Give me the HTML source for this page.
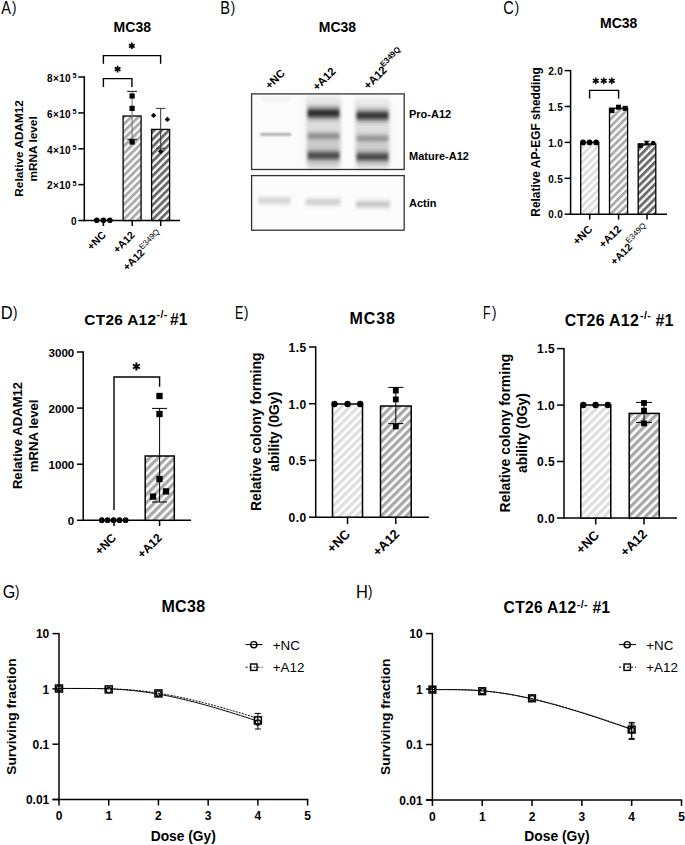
<!DOCTYPE html><html><head><meta charset="utf-8"><style>html,body{margin:0;padding:0;background:#fff;}svg{display:block;}text{font-family:"Liberation Sans",sans-serif;fill:#000;}</style></head><body>
<svg width="685" height="845" viewBox="0 0 685 845">
<defs>
<pattern id="aL" width="5.16" height="5.16" patternUnits="userSpaceOnUse" patternTransform="rotate(45) translate(-1.4,0)"><rect width="5.16" height="5.16" fill="#fff"/><rect width="2.89" height="5.16" fill="#dedede"/></pattern>
<pattern id="aM" width="5.16" height="5.16" patternUnits="userSpaceOnUse" patternTransform="rotate(45) translate(-1.4,0)"><rect width="5.16" height="5.16" fill="#fff"/><rect width="2.89" height="5.16" fill="#ababab"/></pattern>
<pattern id="aD" width="5.16" height="5.16" patternUnits="userSpaceOnUse" patternTransform="rotate(45) translate(-1.4,0)"><rect width="5.16" height="5.16" fill="#fff"/><rect width="2.89" height="5.16" fill="#6b6b6b"/></pattern>
<pattern id="dL" width="5.85" height="5.85" patternUnits="userSpaceOnUse" patternTransform="rotate(45) translate(1.07,0)"><rect width="5.85" height="5.85" fill="#fff"/><rect width="3.28" height="5.85" fill="#dedede"/></pattern>
<pattern id="dM" width="5.85" height="5.85" patternUnits="userSpaceOnUse" patternTransform="rotate(45) translate(1.07,0)"><rect width="5.85" height="5.85" fill="#fff"/><rect width="3.28" height="5.85" fill="#a8a8a8"/></pattern>
<filter id="bl1" x="-30%" y="-100%" width="160%" height="300%"><feGaussianBlur stdDeviation="1.7"/></filter>
<filter id="bl2" x="-30%" y="-100%" width="160%" height="300%"><feGaussianBlur stdDeviation="1.1"/></filter>
<filter id="bl4" x="-30%" y="-100%" width="160%" height="300%"><feGaussianBlur stdDeviation="2.1"/></filter>
<filter id="bl5" x="-30%" y="-150%" width="160%" height="400%"><feGaussianBlur stdDeviation="1.6 2.4"/></filter>
<filter id="bl6" x="-30%" y="-150%" width="160%" height="400%"><feGaussianBlur stdDeviation="1.4 2.7"/></filter>
<filter id="bl7" x="-30%" y="-150%" width="160%" height="400%"><feGaussianBlur stdDeviation="1.4 1.9"/></filter>
<filter id="bl3" x="-30%" y="-30%" width="160%" height="160%"><feGaussianBlur stdDeviation="2.2"/></filter>
</defs>
<rect width="685" height="845" fill="#fff"/>
<text transform="translate(1.17,13.8) scale(0.815,1)" font-size="17.8">A</text>
<text transform="translate(11.92,13.10) scale(0.745,0.92)" font-size="17.8">)</text>
<text transform="translate(220.20,13.8) scale(0.825,1)" font-size="17.8">B</text>
<text transform="translate(230.72,13.10) scale(0.745,0.92)" font-size="17.8">)</text>
<text transform="translate(503.16,13.8) scale(0.82,1)" font-size="17.8">C</text>
<text transform="translate(514.82,13.10) scale(0.745,0.92)" font-size="17.8">)</text>
<text transform="translate(0.64,318.5) scale(0.93,1)" font-size="17.8">D</text>
<text transform="translate(13.02,317.80) scale(0.745,0.92)" font-size="17.8">)</text>
<text transform="translate(235.07,318.5) scale(0.706,1)" font-size="17.8">E</text>
<text transform="translate(243.92,317.80) scale(0.745,0.92)" font-size="17.8">)</text>
<text transform="translate(483.11,318.5) scale(0.68,1)" font-size="17.8">F</text>
<text transform="translate(491.92,317.80) scale(0.745,0.92)" font-size="17.8">)</text>
<text transform="translate(2.69,598) scale(0.905,1)" font-size="17.8">G</text>
<text transform="translate(15.02,597.30) scale(0.745,0.92)" font-size="17.8">)</text>
<text transform="translate(355.95,598) scale(0.926,1)" font-size="17.8">H</text>
<text transform="translate(368.12,597.30) scale(0.745,0.92)" font-size="17.8">)</text>
<line x1="84.30" y1="76.30" x2="84.30" y2="221.25" stroke="#000" stroke-width="1.5" />
<line x1="78.30" y1="77.00" x2="84.30" y2="77.00" stroke="#000" stroke-width="1.5" />
<line x1="78.30" y1="112.90" x2="84.30" y2="112.90" stroke="#000" stroke-width="1.5" />
<line x1="78.30" y1="148.80" x2="84.30" y2="148.80" stroke="#000" stroke-width="1.5" />
<line x1="78.30" y1="184.60" x2="84.30" y2="184.60" stroke="#000" stroke-width="1.5" />
<line x1="78.30" y1="220.50" x2="84.30" y2="220.50" stroke="#000" stroke-width="1.5" />
<line x1="83.55" y1="220.50" x2="180.00" y2="220.50" stroke="#000" stroke-width="1.5" />
<line x1="103.40" y1="220.50" x2="103.40" y2="226.00" stroke="#000" stroke-width="1.5" />
<line x1="132.20" y1="220.50" x2="132.20" y2="226.00" stroke="#000" stroke-width="1.5" />
<line x1="160.70" y1="220.50" x2="160.70" y2="226.00" stroke="#000" stroke-width="1.5" />
<text x="71" y="81.8" font-size="10" font-weight="bold" text-anchor="end" letter-spacing="0.35">8×10</text>
<text x="72.4" y="77.9" font-size="7.2" font-weight="bold">5</text>
<text x="71" y="117.7" font-size="10" font-weight="bold" text-anchor="end" letter-spacing="0.35">6×10</text>
<text x="72.4" y="113.80000000000001" font-size="7.2" font-weight="bold">5</text>
<text x="71" y="153.60000000000002" font-size="10" font-weight="bold" text-anchor="end" letter-spacing="0.35">4×10</text>
<text x="72.4" y="149.70000000000002" font-size="7.2" font-weight="bold">5</text>
<text x="71" y="189.4" font-size="10" font-weight="bold" text-anchor="end" letter-spacing="0.35">2×10</text>
<text x="72.4" y="185.5" font-size="7.2" font-weight="bold">5</text>
<text x="76.5" y="224.6" font-size="10" font-weight="bold" text-anchor="end" >0</text>
<text x="132.3" y="32" font-size="14" font-weight="bold" text-anchor="middle" >MC38</text>
<text transform="translate(22.8,148.4) rotate(-90)" font-size="11.8" font-weight="bold" text-anchor="middle">Relative ADAM12</text>
<text transform="translate(37.1,148.9) rotate(-90)" font-size="11.8" font-weight="bold" text-anchor="middle">mRNA level</text>
<rect x="123.1" y="116" width="18.00" height="104.50" fill="url(#aM)" stroke="#000" stroke-width="1.3"/>
<rect x="151.6" y="129.4" width="18.00" height="91.10" fill="url(#aD)" stroke="#000" stroke-width="1.3"/>
<line x1="132.10" y1="91.40" x2="132.10" y2="139.30" stroke="#7a7a7a" stroke-width="1.1" />
<line x1="127.20" y1="91.40" x2="137.00" y2="91.40" stroke="#222" stroke-width="1.1" />
<line x1="127.20" y1="139.30" x2="137.00" y2="139.30" stroke="#222" stroke-width="1.1" />
<line x1="160.70" y1="108.40" x2="160.70" y2="148.20" stroke="#333" stroke-width="1" />
<line x1="155.95" y1="108.40" x2="165.45" y2="108.40" stroke="#333" stroke-width="1" />
<line x1="155.95" y1="148.20" x2="165.45" y2="148.20" stroke="#333" stroke-width="1" />
<circle cx="96.8" cy="220.3" r="2.8" fill="#000" stroke="#000" stroke-width="0"/>
<circle cx="103.4" cy="220.3" r="2.8" fill="#000" stroke="#000" stroke-width="0"/>
<circle cx="109.9" cy="220.3" r="2.8" fill="#000" stroke="#000" stroke-width="0"/>
<rect x="129.50" y="93.40" width="5.2" height="5.2" fill="#000"/>
<rect x="129.50" y="105.80" width="5.2" height="5.2" fill="#000"/>
<rect x="129.50" y="139.40" width="5.2" height="5.2" fill="#000"/>
<path d="M153.6,112.7 L156.29999999999998,115.4 L153.6,118.10000000000001 L150.9,115.4 Z" fill="#000"/>
<path d="M167.4,116.7 L170.1,119.4 L167.4,122.10000000000001 L164.70000000000002,119.4 Z" fill="#000"/>
<path d="M160.7,148.70000000000002 L163.39999999999998,151.4 L160.7,154.1 L158.0,151.4 Z" fill="#000"/>
<path d="M103.4,87 V78.6 H131.9 V87" fill="none" stroke="#000" stroke-width="1.4"/>
<path d="M103.4,63.7 V55.6 H160.6 V63.7" fill="none" stroke="#000" stroke-width="1.4"/>
<path d="M117.60,65.80 L117.60,72.40 M114.74,67.45 L120.46,70.75 M114.74,70.75 L120.46,67.45 " stroke="#000" stroke-width="1.7" fill="none"/>
<path d="M131.80,42.50 L131.80,49.10 M128.94,44.15 L134.66,47.45 M128.94,47.45 L134.66,44.15 " stroke="#000" stroke-width="1.7" fill="none"/>
<text transform="translate(106.5,235.6) rotate(-45)" font-size="10.5" font-weight="bold" text-anchor="end" >+NC</text>
<text transform="translate(135.4,235.7) rotate(-45)" font-size="10.5" font-weight="bold" text-anchor="end" >+A12</text>
<text transform="translate(163,235.5) rotate(-45)" font-size="10.5" font-weight="bold" text-anchor="end">+A12<tspan font-size="8" font-weight="normal" dx="0.3" dy="-4.5">E349Q</tspan></text>
<text x="337.5" y="32" font-size="14" font-weight="bold" text-anchor="middle" >MC38</text>
<text transform="translate(285.5,74) rotate(-45)" font-size="11" font-weight="bold" text-anchor="end" >+NC</text>
<text transform="translate(336.5,72) rotate(-45)" font-size="11.3" font-weight="bold" text-anchor="end" >+A12</text>
<text transform="translate(404.6,53.65) rotate(-45)" font-size="11.3" font-weight="bold" text-anchor="end">+A12<tspan font-size="8" dx="-0.8" dy="-5.3">E349Q</tspan></text>
<rect x="252" y="94.5" width="152" height="74.5" fill="#fbfbfb"/>
<rect x="252" y="176" width="152" height="54" fill="#fcfcfc"/>
<rect x="307" y="100" width="33" height="68" fill="#cfcfcf" filter="url(#bl3)"/>
<rect x="307" y="96" width="33" height="8" fill="#e8e8e8" filter="url(#bl3)"/>
<rect x="356" y="102" width="33" height="66" fill="#d1d1d1" filter="url(#bl3)"/>
<rect x="356" y="98" width="33" height="8" fill="#eaeaea" filter="url(#bl3)"/>
<rect x="308" y="142" width="31" height="9" fill="#cacaca" filter="url(#bl3)"/>
<rect x="357" y="144" width="31" height="9" fill="#cccccc" filter="url(#bl3)"/>
<rect x="308" y="122" width="31" height="8" fill="#dedede" filter="url(#bl3)"/>
<rect x="357" y="124" width="31" height="8" fill="#e0e0e0" filter="url(#bl3)"/>
<rect x="261" y="98.3" width="30" height="2" fill="#ebebeb" filter="url(#bl1)"/>
<rect x="260.5" y="133.20000000000002" width="30.5" height="2.4" fill="#a0a0a0" filter="url(#bl2)"/>
<rect x="307.5" y="109.2" width="32" height="8" fill="#1e1e1e" filter="url(#bl6)"/>
<rect x="307.5" y="133.89999999999998" width="32" height="4.6" fill="#7c7c7c" filter="url(#bl7)"/>
<rect x="307.5" y="152.1" width="32" height="7" fill="#363636" filter="url(#bl6)"/>
<rect x="356.5" y="111.8" width="32" height="7.6" fill="#222222" filter="url(#bl6)"/>
<rect x="356.5" y="136.20000000000002" width="32" height="4.4" fill="#808080" filter="url(#bl7)"/>
<rect x="356.5" y="153.3" width="32" height="7" fill="#303030" filter="url(#bl6)"/>
<rect x="258.5" y="198.5" width="32" height="4.2" fill="#bcbcbc" filter="url(#bl5)"/>
<rect x="305.5" y="199.9" width="35" height="4.2" fill="#b6b6b6" filter="url(#bl5)"/>
<rect x="356" y="202.0" width="34" height="4.4" fill="#acacac" filter="url(#bl5)"/>
<rect x="251.6" y="93.9" width="152.6" height="75.6" fill="none" stroke="#333" stroke-width="1.3"/>
<rect x="251.6" y="175.6" width="152.6" height="54.6" fill="none" stroke="#333" stroke-width="1.3"/>
<text x="409" y="118.4" font-size="11" font-weight="bold" text-anchor="start" >Pro-A12</text>
<text x="409" y="159.6" font-size="11" font-weight="bold" text-anchor="start" >Mature-A12</text>
<text x="409" y="207.4" font-size="11" font-weight="bold" text-anchor="start" >Actin</text>
<text x="618.7" y="28" font-size="14" font-weight="bold" text-anchor="middle" >MC38</text>
<line x1="570.60" y1="70.00" x2="570.60" y2="214.95" stroke="#000" stroke-width="1.5" />
<line x1="564.60" y1="70.60" x2="570.60" y2="70.60" stroke="#000" stroke-width="1.5" />
<line x1="564.60" y1="106.50" x2="570.60" y2="106.50" stroke="#000" stroke-width="1.5" />
<line x1="564.60" y1="142.40" x2="570.60" y2="142.40" stroke="#000" stroke-width="1.5" />
<line x1="564.60" y1="178.30" x2="570.60" y2="178.30" stroke="#000" stroke-width="1.5" />
<line x1="564.60" y1="214.20" x2="570.60" y2="214.20" stroke="#000" stroke-width="1.5" />
<line x1="569.85" y1="214.20" x2="667.00" y2="214.20" stroke="#000" stroke-width="1.5" />
<line x1="589.70" y1="214.20" x2="589.70" y2="219.60" stroke="#000" stroke-width="1.5" />
<line x1="618.60" y1="214.20" x2="618.60" y2="219.60" stroke="#000" stroke-width="1.5" />
<line x1="647.00" y1="214.20" x2="647.00" y2="219.60" stroke="#000" stroke-width="1.5" />
<text x="563" y="74.8" font-size="10" font-weight="bold" text-anchor="end" letter-spacing="0.3">2.0</text>
<text x="563" y="110.7" font-size="10" font-weight="bold" text-anchor="end" letter-spacing="0.3">1.5</text>
<text x="563" y="146.6" font-size="10" font-weight="bold" text-anchor="end" letter-spacing="0.3">1.0</text>
<text x="563" y="182.5" font-size="10" font-weight="bold" text-anchor="end" letter-spacing="0.3">0.5</text>
<text x="563" y="218.39999999999998" font-size="10" font-weight="bold" text-anchor="end" letter-spacing="0.3">0.0</text>
<text transform="translate(539.6,141.9) rotate(-90)" font-size="11.9" font-weight="bold" text-anchor="middle">Relative AP-EGF shedding</text>
<rect x="580.7" y="142.4" width="18.10" height="71.80" fill="url(#aL)" stroke="#000" stroke-width="1.3"/>
<rect x="609.5" y="108.2" width="18.10" height="106.00" fill="url(#aM)" stroke="#000" stroke-width="1.3"/>
<rect x="638.2" y="144" width="17.60" height="70.20" fill="url(#aD)" stroke="#000" stroke-width="1.3"/>
<circle cx="583" cy="142.4" r="2.9" fill="#000" stroke="#000" stroke-width="0"/>
<circle cx="589.6" cy="142.4" r="2.9" fill="#000" stroke="#000" stroke-width="0"/>
<circle cx="596.2" cy="142.4" r="2.9" fill="#000" stroke="#000" stroke-width="0"/>
<rect x="609.50" y="108.00" width="5" height="5" fill="#000"/>
<rect x="616.00" y="104.70" width="5" height="5" fill="#000"/>
<rect x="622.70" y="105.80" width="5" height="5" fill="#000"/>
<rect x="638.30" y="143.40" width="4.4" height="4.4" fill="#000"/>
<line x1="646.70" y1="141.20" x2="646.70" y2="145.00" stroke="#000" stroke-width="0.9" />
<line x1="643.70" y1="141.20" x2="649.70" y2="141.20" stroke="#000" stroke-width="0.9" />
<line x1="643.70" y1="145.00" x2="649.70" y2="145.00" stroke="#000" stroke-width="0.9" />
<rect x="644.90" y="141.20" width="3.6" height="3.6" fill="#000"/>
<circle cx="653.2" cy="143.2" r="2.4" fill="#000" stroke="#000" stroke-width="0"/>
<path d="M589.6,98.4 V90.4 H618.6 V98.4" fill="none" stroke="#000" stroke-width="1.4"/>
<path d="M595.80,77.40 L595.80,84.20 M592.86,79.10 L598.74,82.50 M592.86,82.50 L598.74,79.10 " stroke="#000" stroke-width="1.45" fill="none"/>
<path d="M603.80,77.40 L603.80,84.20 M600.86,79.10 L606.74,82.50 M600.86,82.50 L606.74,79.10 " stroke="#000" stroke-width="1.45" fill="none"/>
<path d="M611.80,77.40 L611.80,84.20 M608.86,79.10 L614.74,82.50 M608.86,82.50 L614.74,79.10 " stroke="#000" stroke-width="1.45" fill="none"/>
<text transform="translate(593,230) rotate(-45)" font-size="11" font-weight="bold" text-anchor="end" >+NC</text>
<text transform="translate(622,230) rotate(-45)" font-size="11" font-weight="bold" text-anchor="end" >+A12</text>
<text transform="translate(650.4,230.1) rotate(-45)" font-size="10.5" font-weight="bold" text-anchor="end">+A12<tspan font-size="8" font-weight="normal" dx="0" dy="-5.7">E349Q</tspan></text>
<text x="84.3" y="324.7" font-size="15.4" font-weight="bold" letter-spacing="0.3">CT26 A12</text>
<text x="156.4" y="317.8" font-size="10.5" font-weight="bold" letter-spacing="0.5">-/-</text>
<text x="170.0" y="324.7" font-size="15.6" font-weight="bold">#1</text>
<line x1="83.20" y1="351.30" x2="83.20" y2="521.05" stroke="#000" stroke-width="1.5" />
<line x1="77.00" y1="352.00" x2="83.20" y2="352.00" stroke="#000" stroke-width="1.5" />
<line x1="77.00" y1="408.10" x2="83.20" y2="408.10" stroke="#000" stroke-width="1.5" />
<line x1="77.00" y1="464.20" x2="83.20" y2="464.20" stroke="#000" stroke-width="1.5" />
<line x1="77.00" y1="520.30" x2="83.20" y2="520.30" stroke="#000" stroke-width="1.5" />
<line x1="82.45" y1="520.30" x2="191.00" y2="520.30" stroke="#000" stroke-width="1.5" />
<line x1="114.00" y1="520.30" x2="114.00" y2="526.00" stroke="#000" stroke-width="1.5" />
<line x1="159.60" y1="520.30" x2="159.60" y2="526.00" stroke="#000" stroke-width="1.5" />
<text x="74.3" y="356.5" font-size="11.6" font-weight="bold" text-anchor="end" >3000</text>
<text x="74.3" y="412.6" font-size="11.6" font-weight="bold" text-anchor="end" >2000</text>
<text x="74.3" y="468.7" font-size="11.6" font-weight="bold" text-anchor="end" >1000</text>
<text x="74.3" y="524.8" font-size="11.6" font-weight="bold" text-anchor="end" >0</text>
<text transform="translate(22.0,435.5) rotate(-90)" font-size="13.1" font-weight="bold" text-anchor="middle">Relative ADAM12</text>
<text transform="translate(38.1,435.9) rotate(-90)" font-size="13.2" font-weight="bold" text-anchor="middle">mRNA level</text>
<rect x="145.2" y="456" width="29.10" height="64.30" fill="url(#dM)" stroke="#000" stroke-width="1.5"/>
<line x1="159.60" y1="408.40" x2="159.60" y2="502.00" stroke="#000" stroke-width="1" />
<line x1="152.10" y1="408.40" x2="167.10" y2="408.40" stroke="#000" stroke-width="1" />
<line x1="152.10" y1="502.00" x2="167.10" y2="502.00" stroke="#000" stroke-width="1" />
<circle cx="101.8" cy="520.2" r="2.9" fill="#000" stroke="#000" stroke-width="0"/>
<circle cx="107.7" cy="520.2" r="2.9" fill="#000" stroke="#000" stroke-width="0"/>
<circle cx="113.6" cy="520.2" r="2.9" fill="#000" stroke="#000" stroke-width="0"/>
<circle cx="119.5" cy="520.2" r="2.9" fill="#000" stroke="#000" stroke-width="0"/>
<circle cx="125.6" cy="520.2" r="2.9" fill="#000" stroke="#000" stroke-width="0"/>
<rect x="156.35" y="392.85" width="6.3" height="6.3" fill="#000"/>
<rect x="156.35" y="410.85" width="6.3" height="6.3" fill="#000"/>
<rect x="156.35" y="475.85" width="6.3" height="6.3" fill="#000"/>
<rect x="149.85" y="493.45" width="6.3" height="6.3" fill="#000"/>
<rect x="162.85" y="488.25" width="6.3" height="6.3" fill="#000"/>
<path d="M114,510 V377 H159.6 V386.8" fill="none" stroke="#000" stroke-width="1.4"/>
<path d="M136.40,362.50 L136.40,370.50 M132.94,364.50 L139.86,368.50 M132.94,368.50 L139.86,364.50 " stroke="#000" stroke-width="2" fill="none"/>
<text transform="translate(117,538.5) rotate(-45)" font-size="12" font-weight="bold" text-anchor="end" >+NC</text>
<text transform="translate(162.8,538.5) rotate(-45)" font-size="12" font-weight="bold" text-anchor="end" >+A12</text>
<text x="372.6" y="324.3" font-size="16" font-weight="bold" text-anchor="middle" letter-spacing="0.9">MC38</text>
<line x1="315.70" y1="346.30" x2="315.70" y2="517.95" stroke="#000" stroke-width="1.5" />
<line x1="309.00" y1="347.00" x2="315.70" y2="347.00" stroke="#000" stroke-width="1.5" />
<line x1="309.00" y1="403.70" x2="315.70" y2="403.70" stroke="#000" stroke-width="1.5" />
<line x1="309.00" y1="460.40" x2="315.70" y2="460.40" stroke="#000" stroke-width="1.5" />
<line x1="309.00" y1="517.20" x2="315.70" y2="517.20" stroke="#000" stroke-width="1.5" />
<line x1="314.95" y1="517.20" x2="429.00" y2="517.20" stroke="#000" stroke-width="1.5" />
<line x1="347.50" y1="517.20" x2="347.50" y2="524.00" stroke="#000" stroke-width="1.5" />
<line x1="395.80" y1="517.20" x2="395.80" y2="524.00" stroke="#000" stroke-width="1.5" />
<text x="306.5" y="351.8" font-size="12" font-weight="bold" text-anchor="end" letter-spacing="0.4">1.5</text>
<text x="306.5" y="408.5" font-size="12" font-weight="bold" text-anchor="end" letter-spacing="0.4">1.0</text>
<text x="306.5" y="465.2" font-size="12" font-weight="bold" text-anchor="end" letter-spacing="0.4">0.5</text>
<text x="306.5" y="522.0" font-size="12" font-weight="bold" text-anchor="end" letter-spacing="0.4">0.0</text>
<text transform="translate(261.2,431.75) rotate(-90)" font-size="14.0" font-weight="bold" text-anchor="middle">Relative colony forming</text>
<text transform="translate(278.5,431.75) rotate(-90)" font-size="14.0" font-weight="bold" text-anchor="middle">ability (0Gy)</text>
<rect x="332.5" y="404" width="30.00" height="113.20" fill="url(#dL)" stroke="#000" stroke-width="1.5"/>
<rect x="380.5" y="406" width="30.70" height="111.20" fill="url(#dM)" stroke="#000" stroke-width="1.5"/>
<line x1="395.80" y1="387.40" x2="395.80" y2="423.60" stroke="#000" stroke-width="1" />
<line x1="388.30" y1="387.40" x2="403.30" y2="387.40" stroke="#000" stroke-width="1" />
<line x1="388.30" y1="423.60" x2="403.30" y2="423.60" stroke="#000" stroke-width="1" />
<circle cx="334.5" cy="404" r="3.2" fill="#000" stroke="#000" stroke-width="0"/>
<circle cx="347.6" cy="404" r="3.2" fill="#000" stroke="#000" stroke-width="0"/>
<circle cx="360.2" cy="404" r="3.2" fill="#000" stroke="#000" stroke-width="0"/>
<rect x="392.90" y="387.70" width="5.8" height="5.8" fill="#000"/>
<rect x="392.90" y="396.50" width="5.8" height="5.8" fill="#000"/>
<rect x="392.90" y="423.50" width="5.8" height="5.8" fill="#000"/>
<text transform="translate(351,535) rotate(-45)" font-size="13" font-weight="bold" text-anchor="end" >+NC</text>
<text transform="translate(400.2,534.8) rotate(-45)" font-size="13" font-weight="bold" text-anchor="end" >+A12</text>
<text x="564.8" y="325.5" font-size="15.9" font-weight="bold" letter-spacing="0.3">CT26 A12</text>
<text x="639.9" y="318.6" font-size="10.5" font-weight="bold" letter-spacing="0.5">-/-</text>
<text x="655.6" y="325.5" font-size="16.1" font-weight="bold">#1</text>
<line x1="564.00" y1="347.90" x2="564.00" y2="518.75" stroke="#000" stroke-width="1.5" />
<line x1="557.00" y1="348.60" x2="564.00" y2="348.60" stroke="#000" stroke-width="1.5" />
<line x1="557.00" y1="405.10" x2="564.00" y2="405.10" stroke="#000" stroke-width="1.5" />
<line x1="557.00" y1="461.50" x2="564.00" y2="461.50" stroke="#000" stroke-width="1.5" />
<line x1="557.00" y1="518.00" x2="564.00" y2="518.00" stroke="#000" stroke-width="1.5" />
<line x1="563.25" y1="518.00" x2="677.00" y2="518.00" stroke="#000" stroke-width="1.5" />
<line x1="595.70" y1="518.00" x2="595.70" y2="524.50" stroke="#000" stroke-width="1.5" />
<line x1="644.00" y1="518.00" x2="644.00" y2="524.50" stroke="#000" stroke-width="1.5" />
<text x="555" y="353.40000000000003" font-size="12" font-weight="bold" text-anchor="end" letter-spacing="0.4">1.5</text>
<text x="555" y="409.90000000000003" font-size="12" font-weight="bold" text-anchor="end" letter-spacing="0.4">1.0</text>
<text x="555" y="466.3" font-size="12" font-weight="bold" text-anchor="end" letter-spacing="0.4">0.5</text>
<text x="555" y="522.8" font-size="12" font-weight="bold" text-anchor="end" letter-spacing="0.4">0.0</text>
<text transform="translate(509.7,433.05) rotate(-90)" font-size="14.0" font-weight="bold" text-anchor="middle">Relative colony forming</text>
<text transform="translate(526.7,433.05) rotate(-90)" font-size="14.0" font-weight="bold" text-anchor="middle">ability (0Gy)</text>
<rect x="580.8" y="405" width="30.00" height="113.00" fill="url(#dL)" stroke="#000" stroke-width="1.5"/>
<rect x="629.2" y="413.4" width="30.00" height="104.60" fill="url(#dM)" stroke="#000" stroke-width="1.5"/>
<line x1="644.00" y1="402.40" x2="644.00" y2="422.40" stroke="#000" stroke-width="1" />
<line x1="636.00" y1="402.40" x2="652.00" y2="402.40" stroke="#000" stroke-width="1" />
<line x1="636.00" y1="422.40" x2="652.00" y2="422.40" stroke="#000" stroke-width="1" />
<circle cx="583.3" cy="405" r="3.2" fill="#000" stroke="#000" stroke-width="0"/>
<circle cx="595.6" cy="405" r="3.2" fill="#000" stroke="#000" stroke-width="0"/>
<circle cx="607.8" cy="405" r="3.2" fill="#000" stroke="#000" stroke-width="0"/>
<rect x="641.10" y="400.10" width="5.8" height="5.8" fill="#000"/>
<rect x="641.10" y="407.70" width="5.8" height="5.8" fill="#000"/>
<rect x="641.10" y="420.50" width="5.8" height="5.8" fill="#000"/>
<text transform="translate(600,536) rotate(-45)" font-size="13" font-weight="bold" text-anchor="end" >+NC</text>
<text transform="translate(647.8,535) rotate(-45)" font-size="13" font-weight="bold" text-anchor="end" >+A12</text>
<line x1="59.00" y1="632.90" x2="59.00" y2="800.25" stroke="#000" stroke-width="1.5" />
<line x1="52.50" y1="633.60" x2="59.00" y2="633.60" stroke="#000" stroke-width="1.5" />
<line x1="52.50" y1="688.90" x2="59.00" y2="688.90" stroke="#000" stroke-width="1.5" />
<line x1="52.50" y1="744.20" x2="59.00" y2="744.20" stroke="#000" stroke-width="1.5" />
<line x1="52.50" y1="799.50" x2="59.00" y2="799.50" stroke="#000" stroke-width="1.5" />
<line x1="52.50" y1="799.50" x2="308.30" y2="799.50" stroke="#000" stroke-width="1.5" />
<line x1="59.00" y1="799.50" x2="59.00" y2="805.50" stroke="#000" stroke-width="1.5" />
<text x="59.0" y="820.1" font-size="12" font-weight="bold" text-anchor="middle" >0</text>
<line x1="108.72" y1="799.50" x2="108.72" y2="805.50" stroke="#000" stroke-width="1.5" />
<text x="108.72" y="820.1" font-size="12" font-weight="bold" text-anchor="middle" >1</text>
<line x1="158.44" y1="799.50" x2="158.44" y2="805.50" stroke="#000" stroke-width="1.5" />
<text x="158.44" y="820.1" font-size="12" font-weight="bold" text-anchor="middle" >2</text>
<line x1="208.16" y1="799.50" x2="208.16" y2="805.50" stroke="#000" stroke-width="1.5" />
<text x="208.16" y="820.1" font-size="12" font-weight="bold" text-anchor="middle" >3</text>
<line x1="257.88" y1="799.50" x2="257.88" y2="805.50" stroke="#000" stroke-width="1.5" />
<text x="257.88" y="820.1" font-size="12" font-weight="bold" text-anchor="middle" >4</text>
<line x1="307.60" y1="799.50" x2="307.60" y2="805.50" stroke="#000" stroke-width="1.5" />
<text x="307.6" y="820.1" font-size="12" font-weight="bold" text-anchor="middle" >5</text>
<text x="49.3" y="638.3" font-size="12" font-weight="bold" text-anchor="end" >10</text>
<text x="49.3" y="693.6" font-size="12" font-weight="bold" text-anchor="end" >1</text>
<text x="49.3" y="748.9" font-size="12" font-weight="bold" text-anchor="end" >0.1</text>
<text x="49.3" y="804.2" font-size="12" font-weight="bold" text-anchor="end" >0.01</text>
<text transform="translate(16.0,716.55) rotate(-90)" font-size="13.7" font-weight="bold" text-anchor="middle">Surviving fraction</text>
<text x="183.3" y="840.5" font-size="13.8" font-weight="bold" text-anchor="middle" >Dose (Gy)</text>
<path d="M59.00,688.46 L61.49,688.46 L63.97,688.46 L66.46,688.46 L68.94,688.46 L71.43,688.46 L73.92,688.46 L76.40,688.46 L78.89,688.46 L81.37,688.47 L83.86,688.47 L86.35,688.48 L88.83,688.49 L91.32,688.51 L93.80,688.54 L96.29,688.57 L98.78,688.61 L101.26,688.66 L103.75,688.72 L106.23,688.79 L108.72,688.87 L111.21,688.97 L113.69,689.09 L116.18,689.22 L118.66,689.36 L121.15,689.52 L123.64,689.70 L126.12,689.90 L128.61,690.12 L131.09,690.35 L133.58,690.61 L136.07,690.88 L138.55,691.17 L141.04,691.48 L143.52,691.80 L146.01,692.15 L148.50,692.51 L150.98,692.89 L153.47,693.29 L155.95,693.71 L158.44,694.14 L160.93,694.59 L163.41,695.06 L165.90,695.54 L168.38,696.04 L170.87,696.55 L173.36,697.08 L175.84,697.62 L178.33,698.17 L180.81,698.74 L183.30,699.33 L185.79,699.92 L188.27,700.53 L190.76,701.15 L193.24,701.78 L195.73,702.42 L198.22,703.08 L200.70,703.74 L203.19,704.41 L205.67,705.10 L208.16,705.79 L210.65,706.49 L213.13,707.20 L215.62,707.93 L218.10,708.65 L220.59,709.39 L223.08,710.13 L225.56,710.89 L228.05,711.64 L230.53,712.41 L233.02,713.18 L235.51,713.96 L237.99,714.75 L240.48,715.54 L242.96,716.33 L245.45,717.14 L247.94,717.94 L250.42,718.76 L252.91,719.57 L255.39,720.39 L257.88,721.22" fill="none" stroke="#000" stroke-width="1"/>
<path d="M59.00,688.46 L61.49,688.46 L63.97,688.46 L66.46,688.46 L68.94,688.46 L71.43,688.46 L73.92,688.46 L76.40,688.46 L78.89,688.46 L81.37,688.46 L83.86,688.47 L86.35,688.47 L88.83,688.48 L91.32,688.49 L93.80,688.51 L96.29,688.53 L98.78,688.56 L101.26,688.60 L103.75,688.64 L106.23,688.69 L108.72,688.76 L111.21,688.83 L113.69,688.92 L116.18,689.03 L118.66,689.14 L121.15,689.27 L123.64,689.42 L126.12,689.58 L128.61,689.76 L131.09,689.95 L133.58,690.16 L136.07,690.39 L138.55,690.64 L141.04,690.90 L143.52,691.18 L146.01,691.48 L148.50,691.80 L150.98,692.13 L153.47,692.48 L155.95,692.84 L158.44,693.23 L160.93,693.63 L163.41,694.04 L165.90,694.47 L168.38,694.92 L170.87,695.38 L173.36,695.86 L175.84,696.35 L178.33,696.85 L180.81,697.37 L183.30,697.90 L185.79,698.45 L188.27,699.00 L190.76,699.57 L193.24,700.15 L195.73,700.75 L198.22,701.35 L200.70,701.97 L203.19,702.59 L205.67,703.23 L208.16,703.87 L210.65,704.53 L213.13,705.19 L215.62,705.87 L218.10,706.55 L220.59,707.24 L223.08,707.94 L225.56,708.64 L228.05,709.36 L230.53,710.08 L233.02,710.81 L235.51,711.54 L237.99,712.28 L240.48,713.03 L242.96,713.79 L245.45,714.55 L247.94,715.31 L250.42,716.08 L252.91,716.86 L255.39,717.64 L257.88,718.43" fill="none" stroke="#000" stroke-width="1" stroke-dasharray="2,1.2"/>
<line x1="257.88" y1="713.40" x2="257.88" y2="729.00" stroke="#000" stroke-width="1" />
<line x1="254.88" y1="713.40" x2="260.88" y2="713.40" stroke="#000" stroke-width="1" />
<line x1="254.88" y1="729.00" x2="260.88" y2="729.00" stroke="#000" stroke-width="1" />
<rect x="55.50" y="685.00" width="7" height="7" fill="none" stroke="#000" stroke-width="1.5"/>
<rect x="105.22" y="685.90" width="7" height="7" fill="none" stroke="#000" stroke-width="1.5"/>
<rect x="154.94" y="689.90" width="7" height="7" fill="none" stroke="#000" stroke-width="1.5"/>
<rect x="254.38" y="716.90" width="7" height="7" fill="none" stroke="#000" stroke-width="1.5"/>
<circle cx="59.0" cy="688.5" r="2.6" fill="none" stroke="#000" stroke-width="1.2"/>
<circle cx="108.72" cy="690" r="2.6" fill="none" stroke="#000" stroke-width="1.2"/>
<circle cx="158.44" cy="693.4" r="2.6" fill="none" stroke="#000" stroke-width="1.2"/>
<circle cx="257.88" cy="722.5" r="2.6" fill="none" stroke="#000" stroke-width="1.2"/>
<line x1="245.60" y1="644.60" x2="262.60" y2="644.60" stroke="#000" stroke-width="1" />
<circle cx="253.79999999999998" cy="644.7" r="3.1" fill="none" stroke="#000" stroke-width="1.4"/>
<line x1="245.60" y1="667.20" x2="262.60" y2="667.20" stroke="#000" stroke-width="1" stroke-dasharray="2,2"/>
<rect x="250.6" y="664.0" width="6.4" height="6.4" fill="none" stroke="#000" stroke-width="1.4"/>
<text x="272.8" y="649.9" font-size="13.4" font-weight="normal" text-anchor="start" >+NC</text>
<text x="272.8" y="672.1" font-size="13.4" font-weight="normal" text-anchor="start" >+A12</text>
<line x1="432.40" y1="632.90" x2="432.40" y2="800.75" stroke="#000" stroke-width="1.5" />
<line x1="425.90" y1="633.60" x2="432.40" y2="633.60" stroke="#000" stroke-width="1.5" />
<line x1="425.90" y1="689.07" x2="432.40" y2="689.07" stroke="#000" stroke-width="1.5" />
<line x1="425.90" y1="744.53" x2="432.40" y2="744.53" stroke="#000" stroke-width="1.5" />
<line x1="425.90" y1="800.00" x2="432.40" y2="800.00" stroke="#000" stroke-width="1.5" />
<line x1="425.90" y1="800.00" x2="682.20" y2="800.00" stroke="#000" stroke-width="1.5" />
<line x1="432.40" y1="800.00" x2="432.40" y2="806.00" stroke="#000" stroke-width="1.5" />
<text x="432.4" y="820.6" font-size="12" font-weight="bold" text-anchor="middle" >0</text>
<line x1="482.22" y1="800.00" x2="482.22" y2="806.00" stroke="#000" stroke-width="1.5" />
<text x="482.22" y="820.6" font-size="12" font-weight="bold" text-anchor="middle" >1</text>
<line x1="532.04" y1="800.00" x2="532.04" y2="806.00" stroke="#000" stroke-width="1.5" />
<text x="532.04" y="820.6" font-size="12" font-weight="bold" text-anchor="middle" >2</text>
<line x1="581.86" y1="800.00" x2="581.86" y2="806.00" stroke="#000" stroke-width="1.5" />
<text x="581.86" y="820.6" font-size="12" font-weight="bold" text-anchor="middle" >3</text>
<line x1="631.68" y1="800.00" x2="631.68" y2="806.00" stroke="#000" stroke-width="1.5" />
<text x="631.68" y="820.6" font-size="12" font-weight="bold" text-anchor="middle" >4</text>
<line x1="681.50" y1="800.00" x2="681.50" y2="806.00" stroke="#000" stroke-width="1.5" />
<text x="681.5" y="820.6" font-size="12" font-weight="bold" text-anchor="middle" >5</text>
<text x="422.7" y="638.3" font-size="12" font-weight="bold" text-anchor="end" >10</text>
<text x="422.7" y="693.77" font-size="12" font-weight="bold" text-anchor="end" >1</text>
<text x="422.7" y="749.23" font-size="12" font-weight="bold" text-anchor="end" >0.1</text>
<text x="422.7" y="804.7" font-size="12" font-weight="bold" text-anchor="end" >0.01</text>
<text transform="translate(389.5,716.8) rotate(-90)" font-size="13.7" font-weight="bold" text-anchor="middle">Surviving fraction</text>
<text x="556.95" y="840.5" font-size="13.8" font-weight="bold" text-anchor="middle" >Dose (Gy)</text>
<path d="M432.40,689.58 L434.89,689.58 L437.38,689.58 L439.87,689.58 L442.36,689.58 L444.85,689.58 L447.35,689.59 L449.84,689.60 L452.33,689.62 L454.82,689.64 L457.31,689.68 L459.80,689.72 L462.29,689.78 L464.78,689.85 L467.27,689.93 L469.76,690.04 L472.26,690.16 L474.75,690.30 L477.24,690.45 L479.73,690.63 L482.22,690.83 L484.71,691.05 L487.20,691.29 L489.69,691.55 L492.18,691.83 L494.67,692.13 L497.17,692.46 L499.66,692.80 L502.15,693.16 L504.64,693.55 L507.13,693.95 L509.62,694.37 L512.11,694.81 L514.60,695.27 L517.09,695.74 L519.59,696.23 L522.08,696.74 L524.57,697.27 L527.06,697.81 L529.55,698.37 L532.04,698.94 L534.53,699.52 L537.02,700.12 L539.51,700.73 L542.00,701.36 L544.50,702.00 L546.99,702.64 L549.48,703.31 L551.97,703.98 L554.46,704.66 L556.95,705.35 L559.44,706.06 L561.93,706.77 L564.42,707.49 L566.91,708.22 L569.40,708.96 L571.90,709.71 L574.39,710.47 L576.88,711.23 L579.37,712.00 L581.86,712.78 L584.35,713.57 L586.84,714.36 L589.33,715.16 L591.82,715.96 L594.32,716.77 L596.81,717.59 L599.30,718.41 L601.79,719.24 L604.28,720.07 L606.77,720.90 L609.26,721.74 L611.75,722.59 L614.24,723.44 L616.73,724.29 L619.23,725.15 L621.72,726.01 L624.21,726.88 L626.70,727.74 L629.19,728.62 L631.68,729.49" fill="none" stroke="#000" stroke-width="1"/>
<path d="M432.40,689.58 L434.89,689.58 L437.38,689.58 L439.87,689.58 L442.36,689.58 L444.85,689.58 L447.35,689.59 L449.84,689.60 L452.33,689.62 L454.82,689.64 L457.31,689.67 L459.80,689.71 L462.29,689.77 L464.78,689.84 L467.27,689.92 L469.76,690.02 L472.26,690.13 L474.75,690.27 L477.24,690.42 L479.73,690.60 L482.22,690.79 L484.71,691.00 L487.20,691.24 L489.69,691.49 L492.18,691.77 L494.67,692.06 L497.17,692.38 L499.66,692.71 L502.15,693.07 L504.64,693.45 L507.13,693.84 L509.62,694.25 L512.11,694.69 L514.60,695.14 L517.09,695.61 L519.59,696.09 L522.08,696.59 L524.57,697.11 L527.06,697.64 L529.55,698.19 L532.04,698.76 L534.53,699.34 L537.02,699.93 L539.51,700.53 L542.00,701.15 L544.50,701.78 L546.99,702.42 L549.48,703.08 L551.97,703.74 L554.46,704.42 L556.95,705.11 L559.44,705.80 L561.93,706.51 L564.42,707.22 L566.91,707.95 L569.40,708.68 L571.90,709.42 L574.39,710.17 L576.88,710.93 L579.37,711.70 L581.86,712.47 L584.35,713.25 L586.84,714.03 L589.33,714.83 L591.82,715.63 L594.32,716.43 L596.81,717.24 L599.30,718.05 L601.79,718.88 L604.28,719.70 L606.77,720.53 L609.26,721.37 L611.75,722.21 L614.24,723.05 L616.73,723.90 L619.23,724.75 L621.72,725.61 L624.21,726.47 L626.70,727.33 L629.19,728.20 L631.68,729.07" fill="none" stroke="#000" stroke-width="1" stroke-dasharray="2,1.2"/>
<line x1="631.68" y1="722.40" x2="631.68" y2="739.40" stroke="#000" stroke-width="1" />
<line x1="628.68" y1="722.40" x2="634.68" y2="722.40" stroke="#000" stroke-width="1" />
<line x1="628.68" y1="739.40" x2="634.68" y2="739.40" stroke="#000" stroke-width="1" />
<line x1="631.68" y1="724.00" x2="631.68" y2="738.40" stroke="#000" stroke-width="1" />
<line x1="628.68" y1="724.00" x2="634.68" y2="724.00" stroke="#000" stroke-width="1" />
<line x1="628.68" y1="738.40" x2="634.68" y2="738.40" stroke="#000" stroke-width="1" />
<rect x="429.00" y="686.20" width="6.8" height="6.8" fill="none" stroke="#000" stroke-width="1.5"/>
<rect x="478.82" y="687.80" width="6.8" height="6.8" fill="none" stroke="#000" stroke-width="1.5"/>
<rect x="528.64" y="694.90" width="6.8" height="6.8" fill="none" stroke="#000" stroke-width="1.5"/>
<rect x="628.28" y="726.20" width="6.8" height="6.8" fill="none" stroke="#000" stroke-width="1.5"/>
<circle cx="432.4" cy="689.6" r="2.6" fill="none" stroke="#000" stroke-width="1.2"/>
<circle cx="482.22" cy="691.2" r="2.6" fill="none" stroke="#000" stroke-width="1.2"/>
<circle cx="532.04" cy="698.3" r="2.6" fill="none" stroke="#000" stroke-width="1.2"/>
<circle cx="631.68" cy="730" r="2.6" fill="none" stroke="#000" stroke-width="1.2"/>
<line x1="619.00" y1="644.60" x2="636.00" y2="644.60" stroke="#000" stroke-width="1" />
<circle cx="627.2" cy="644.7" r="3.1" fill="none" stroke="#000" stroke-width="1.4"/>
<line x1="619.00" y1="667.20" x2="636.00" y2="667.20" stroke="#000" stroke-width="1" stroke-dasharray="2,2"/>
<rect x="624.0" y="664.0" width="6.4" height="6.4" fill="none" stroke="#000" stroke-width="1.4"/>
<text x="646.2" y="649.9" font-size="13.4" font-weight="normal" text-anchor="start" >+NC</text>
<text x="646.2" y="672.1" font-size="13.4" font-weight="normal" text-anchor="start" >+A12</text>
<text x="183.4" y="612.2" font-size="16" font-weight="bold" text-anchor="middle" letter-spacing="0.3">MC38</text>
<text x="503.6" y="612.8" font-size="15.6" font-weight="bold" letter-spacing="0.3">CT26 A12</text>
<text x="576.7" y="607.9" font-size="10.5" font-weight="bold" letter-spacing="0.5">-/-</text>
<text x="592.4" y="612.8" font-size="15.8" font-weight="bold">#1</text>
</svg></body></html>
